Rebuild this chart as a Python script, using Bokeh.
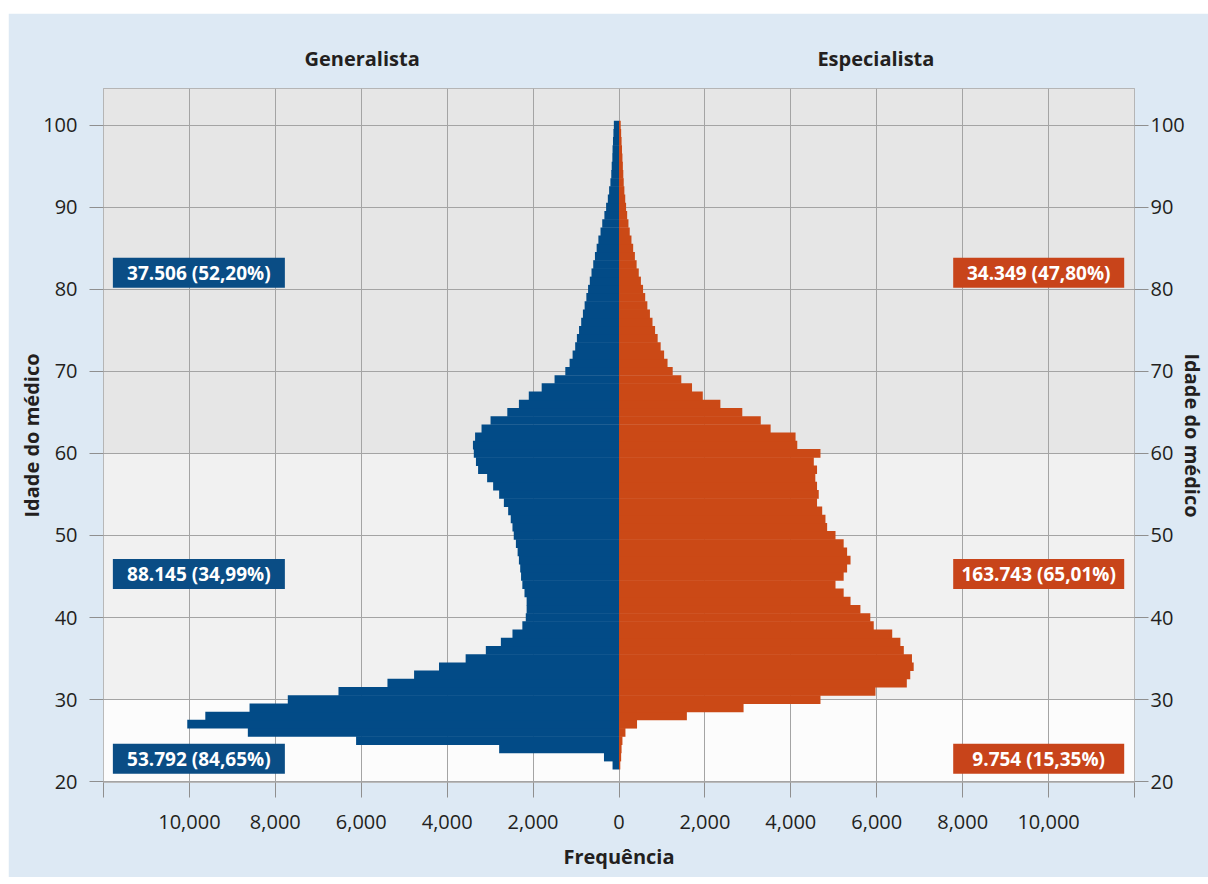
from bokeh.plotting import figure
from bokeh.models import Range1d, FixedTicker, LinearAxis, Spacer
from bokeh.layouts import column, row
from bokeh.embed import file_html
from bokeh.resources import INLINE
from bokeh.core.properties import value

# ---------------- data ----------------
ages = list(range(22, 101))
generalista = [150, 350, 2790, 6120, 8640, 10050, 9630, 8600, 7710,          # 22-30
               6530, 5390, 4770, 4190, 3570, 3100, 2750, 2480, 2250, 2170,     # 31-40
               2150, 2150, 2200, 2250, 2280, 2300, 2330, 2360, 2400, 2450,     # 41-50
               2480, 2520, 2580, 2680, 2790, 2930, 3070, 3280, 3330, 3380,     # 51-60
               3400, 3350, 3200, 2990, 2600, 2330, 2100, 1800, 1500, 1250,     # 61-70
               1150, 1080, 1020, 980, 930, 880, 840, 800, 760, 720,            # 71-80
               680, 640, 600, 560, 520, 480, 430, 390, 340, 300,               # 81-90
               260, 230, 200, 180, 170, 155, 150, 140, 130, 120]               # 91-100
especialista = [30, 50, 60, 80, 150, 420, 1580, 2900, 4690,                    # 22-30
                5970, 6700, 6780, 6860, 6820, 6630, 6550, 6360, 5930, 5850,    # 31-40
                5620, 5390, 5230, 5040, 5230, 5310, 5390, 5310, 5230, 5040,    # 41-50
                4845, 4806, 4730, 4610, 4650, 4610, 4570, 4610, 4535, 4690,    # 51-60
                4150, 4110, 3530, 3300, 2870, 2360, 1950, 1700, 1450, 1250,    # 61-70
                1130, 1050, 970, 900, 840, 780, 720, 660, 610, 560,            # 71-80
                510, 460, 410, 370, 330, 290, 250, 220, 190, 165,              # 81-90
                145, 125, 110, 100, 90, 80, 70, 60, 50, 40]                    # 91-100

group_ages = [82, 45.3, 22.8]
gen_labels = ["37.506 (52,20%)", "88.145 (34,99%)", "53.792 (84,65%)"]
esp_labels = ["34.349 (47,80%)", "163.743 (65,01%)", "9.754 (15,35%)"]

panel_titles = {-5980: "Generalista", 5980: "Especialista"}
y_title = "Idade do médico"
x_title = "Frequência"

band_bottom = [19.9, 30, 60]
band_top = [30, 60, 104.45]
band_colors = ["#fcfcfc", "#f1f1f1", "#e6e6e6"]

x_ticks = list(range(-12000, 12001, 2000))
y_ticks = list(range(20, 101, 10))

# ---------------- style ----------------
BLUE = "#024b87"
ORANGE = "#cb4916"
BOX_BLUE = "#0a4d85"
BOX_ORANGE = "#c8441a"
GRID = "#a4a4a4"
TXT = "#231f20"
FONT = "Open Sans"

p = figure(width=1200, height=864,
           x_range=Range1d(-12000, 12000), y_range=Range1d(19.9, 104.45),
           output_backend="svg", toolbar_location=None,
           min_border_left=95, min_border_right=73,
           min_border_top=75, min_border_bottom=95,
           background_fill_color="#e6e6e6", border_fill_color="#dde9f4",
           outline_line_color=GRID)

# background bands
p.quad(left=-12000, right=12000, bottom=band_bottom, top=band_top,
       fill_color=band_colors, line_color=None, level="image")

# grid
p.xgrid.ticker = FixedTicker(ticks=x_ticks)
p.ygrid.ticker = FixedTicker(ticks=y_ticks)
p.xgrid.grid_line_color = GRID
p.ygrid.grid_line_color = GRID

# bars (slight overlap to avoid seams)
p.hbar(y=ages, left=[-v for v in generalista], right=0, height=1.06,
       fill_color=BLUE, line_color=None)
p.hbar(y=ages, left=0, right=especialista, height=1.06,
       fill_color=ORANGE, line_color=None)

# group boxes
p.rect(x=[-9780] * 3, y=group_ages, width=172, height=30,
       width_units="screen", height_units="screen",
       fill_color=BOX_BLUE, line_color=None)
p.rect(x=[9770] * 3, y=group_ages, width=171, height=30,
       width_units="screen", height_units="screen",
       fill_color=BOX_ORANGE, line_color=None)
p.text(x=[-9780] * 3, y=group_ages, text=gen_labels, text_align="center",
       text_baseline="middle", text_color="white", text_font=value(FONT),
       text_font_style="bold", text_font_size="19px")
p.text(x=[9770] * 3, y=group_ages, text=esp_labels, text_align="center",
       text_baseline="middle", text_color="white", text_font=value(FONT),
       text_font_style="bold", text_font_size="19px")

# axes
def style_axis(ax, standoff, tick_out=14):
    ax.axis_line_color = None
    ax.major_tick_line_color = "#8f8f8f"
    ax.major_tick_out = tick_out
    ax.major_tick_in = 0
    ax.minor_tick_out = 0
    ax.minor_tick_in = 0
    ax.major_label_text_font = FONT
    ax.major_label_text_font_size = "20px"
    ax.major_label_text_color = TXT
    ax.major_label_standoff = standoff
    ax.axis_label_text_font = FONT
    ax.axis_label_text_font_size = "20px"
    ax.axis_label_text_font_style = "bold"
    ax.axis_label_text_color = TXT

xax = p.xaxis[0]
xax.ticker = FixedTicker(ticks=x_ticks)
xax.major_label_overrides = {t: (f"{abs(t):,}" if abs(t) < 12000 else "") for t in x_ticks}
style_axis(xax, 17, 15)
xax.axis_label = x_title
xax.axis_label_standoff = 11

yax = p.yaxis[0]
yax.ticker = FixedTicker(ticks=y_ticks)
style_axis(yax, 12, 14)
yax.axis_label = y_title
yax.axis_label_standoff = -5

ryax = LinearAxis(ticker=FixedTicker(ticks=y_ticks))
style_axis(ryax, 2, 14)
ryax.axis_label = y_title
ryax.axis_label_standoff = -9
p.add_layout(ryax, "right")

# panel titles as a tick-less axis above
tax = LinearAxis(ticker=FixedTicker(ticks=list(panel_titles.keys())))
tax.major_label_overrides = panel_titles
tax.axis_line_color = None
tax.major_tick_line_color = None
tax.minor_tick_line_color = None
tax.major_tick_out = 0
tax.major_tick_in = 0
tax.minor_tick_out = 0
tax.major_label_standoff = 17
tax.major_label_text_font = FONT
tax.major_label_text_font_size = "20px"
tax.major_label_text_font_style = "bold"
tax.major_label_text_color = TXT
p.add_layout(tax, "above")

layout = column(Spacer(width=1208, height=13), row(Spacer(width=8, height=864), p))
open("out.html", "w").write(file_html(layout, INLINE))
